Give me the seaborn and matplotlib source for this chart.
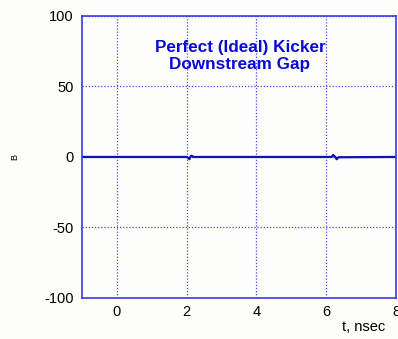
import matplotlib
matplotlib.use("Agg")
import matplotlib.pyplot as plt
import seaborn as sns
import pandas as pd

# Field trace vs time: flat with two small transients near the gap crossings
t_ns = [-1.0, 2.0, 2.04, 2.08, 2.12, 2.16, 2.2, 6.15, 6.2, 6.25, 6.3, 6.35, 8.0]
b_val = [0.0, 0.0, -0.6, -1.6, 0.8, 0.6, 0.0, 0.0, 1.4, 0.2, -1.6, -0.2, 0.0]

x_ticks = [0, 2, 4, 6, 8]
y_ticks = [-100, -50, 0, 50, 100]
title_lines = ["Perfect (Ideal) Kicker", "Downstream Gap"]

sns.set_theme(style="white")
plt.rcParams["font.family"] = ["Liberation Sans", "DejaVu Sans"]
plt.rcParams["axes.unicode_minus"] = False

df = pd.DataFrame({"t": t_ns, "B": b_val})

fig = plt.figure(figsize=(3.98, 3.39), dpi=100)
fig.patch.set_facecolor("#fdfdfb")
ax = fig.add_axes([0.206, 0.121, 0.789, 0.832])
ax.set_facecolor("#fdfdfb")

sns.lineplot(data=df, x="t", y="B", ax=ax, color="#1010b4", linewidth=1.6,
             estimator=None, sort=False)

ax.set_xlim(-1, 8)
ax.set_ylim(-100, 100)
ax.set_xticks(x_ticks)
ax.set_yticks(y_ticks)
ax.set_xticklabels([str(v) for v in x_ticks])
ax.set_yticklabels([str(v) for v in y_ticks])
ax.tick_params(axis="both", labelsize=10.5, colors="black", direction="in",
               length=3, width=1)
ax.tick_params(axis="y", pad=6)
ax.tick_params(axis="x", pad=5)
ax.tick_params(axis="both", color="#3a3ae8")
ax.grid(True, color="#4a4ae8", linestyle=(0, (1, 1.5)), linewidth=0.9)
for s in ax.spines.values():
    s.set_color("#3a3ae8")
    s.set_linewidth(1.2)

ax.set_xlabel("")
ax.set_ylabel("")
fig.text(0.037, 0.537, "B", rotation=90, fontsize=6.5, ha="center", va="center",
         color="black")
fig.text(0.968, 0.025, "t, nsec", fontsize=10.5, ha="right", va="baseline",
         color="black")

ax.text(0.503, 0.915, "\n".join(title_lines), transform=ax.transAxes,
        ha="center", va="top", fontsize=12.3, fontweight="bold",
        color="#0a0ad2", linespacing=1.15)

fig.savefig("out.png", dpi=100, facecolor=fig.get_facecolor())
